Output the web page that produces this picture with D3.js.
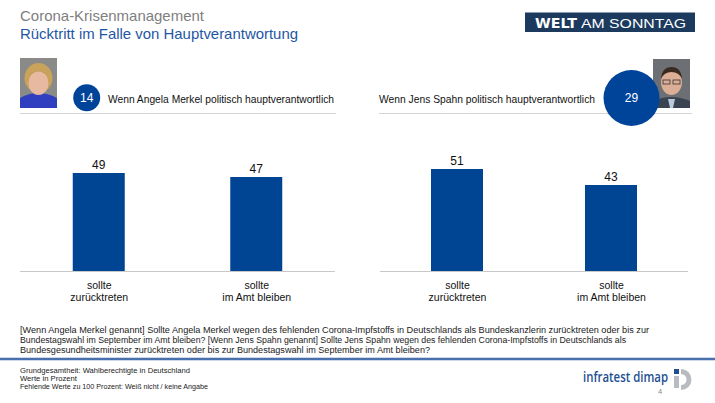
<!DOCTYPE html>
<html><head><meta charset="utf-8">
<script src="https://cdn.jsdelivr.net/npm/d3@7"></script>
<style>
html,body{margin:0;padding:0;background:#fff;}
svg{display:block;font-family:"Liberation Sans",Arial,sans-serif;}
</style></head>
<body>
<svg id="c" width="715" height="403"></svg>
<script>
// ---- data ----
const categories = ["sollte|zurücktreten", "sollte|im Amt bleiben"];
const merkelValues = [49, 47];
const spahnValues = [51, 43];
const panelTitles = ["Wenn Angela Merkel politisch hauptverantwortlich", "Wenn Jens Spahn politisch hauptverantwortlich"];
const badgeValues = [14, 29];
const titleLines = ["Corona-Krisenmanagement", "Rücktritt im Falle von Hauptverantwortung"];
const questionLines = [
  "[Wenn Angela Merkel genannt]  Sollte Angela Merkel wegen des fehlenden  Corona-Impfstoffs  in Deutschlands  als Bundeskanzlerin  zurücktreten  oder bis zur",
  "Bundestagswahl  im September im Amt bleiben? [Wenn Jens Spahn genannt]  Sollte Jens Spahn wegen des fehlenden Corona-Impfstoffs  in Deutschlands  als",
  "Bundesgesundheitsminister  zurücktreten  oder bis zur Bundestagswahl  im September im Amt bleiben?"
];
const noteLines = [
  "Grundgesamtheit:  Wahlberechtigte in Deutschland",
  "Werte in Prozent",
  "Fehlende  Werte zu 100 Prozent: Weiß nicht / keine Angabe"
];

const svg = d3.select("#c");
const barColor = "#004494";

// ---- header ----
svg.append("text").attr("x",20).attr("y",21).attr("font-size",15).attr("fill","#808080")
  .attr("textLength",184).attr("lengthAdjust","spacingAndGlyphs").text(titleLines[0]);
svg.append("text").attr("x",20).attr("y",39).attr("font-size",15).attr("fill","#1f57a4")
  .attr("textLength",278).attr("lengthAdjust","spacingAndGlyphs").text(titleLines[1]);

// WELT AM SONNTAG logo
svg.append("rect").attr("x",525).attr("y",12.5).attr("width",170).attr("height",19.5).attr("fill","#1b3a5e");
svg.append("text").attr("x",535).attr("y",27.5).attr("font-size",14.5).attr("font-weight","bold").attr("fill","#fff")
  .attr("font-family","'DejaVu Sans', sans-serif")
  .attr("textLength",42).attr("lengthAdjust","spacingAndGlyphs").text("WELT");
svg.append("text").attr("x",581).attr("y",27.5).attr("font-size",13.5).attr("fill","#fff")
  .attr("textLength",105).attr("lengthAdjust","spacingAndGlyphs").text("AM SONNTAG");

// ---- photos (stylised placeholders) ----
function merkelPhoto(g){
  g.append("rect").attr("x",0).attr("y",0).attr("width",37).attr("height",50).attr("fill","#8a8a88");
  g.append("path").attr("d","M0,50 L0,40 Q18,30 37,40 L37,50 Z").attr("fill","#2f3fc0");
  g.append("ellipse").attr("cx",18.5).attr("cy",20).attr("rx",14).attr("ry",15).attr("fill","#c9a25c");
  g.append("ellipse").attr("cx",18.5).attr("cy",25).attr("rx",10).attr("ry",12).attr("fill","#e6b9a0");
  g.append("path").attr("d","M8,19 Q18,8 29,19 Q24,12 18,13 Q12,12 8,19Z").attr("fill","#c09a55");
}
function spahnPhoto(g){
  g.append("rect").attr("x",0).attr("y",0).attr("width",37).attr("height",49).attr("fill","#6c6f73");
  g.append("path").attr("d","M0,49 L0,42 Q18,34 37,42 L37,49 Z").attr("fill","#3a4450");
  g.append("path").attr("d","M15,40 L22,40 L20,49 L17,49Z").attr("fill","#b9c9de");
  g.append("ellipse").attr("cx",18.5).attr("cy",23).attr("rx",10.5).attr("ry",13).attr("fill","#dcae95");
  g.append("path").attr("d","M8,20 Q9,8 18.5,8 Q28,8 29,20 Q26,13 18.5,13 Q11,13 8,20Z").attr("fill","#3a2a20");
  g.append("rect").attr("x",10).attr("y",21).attr("width",7).attr("height",4).attr("fill","none").attr("stroke","#333").attr("stroke-width",0.8);
  g.append("rect").attr("x",20).attr("y",21).attr("width",7).attr("height",4).attr("fill","none").attr("stroke","#333").attr("stroke-width",0.8);
}

// ---- panels ----
const panels = [
  {values: merkelValues, range:[20,335], title:panelTitles[0], titleX:108, titleLen:226,
   badge:badgeValues[0], bx:86.7, by:97.7, br:13.5, lineX:[20,336], photo:{x:20,y:58,fn:merkelPhoto}},
  {values: spahnValues, range:[380,688], title:panelTitles[1], titleX:379, titleLen:216,
   badge:badgeValues[1], bx:631.5, by:98, br:28, lineX:[379,692], photo:{x:653,y:59,fn:spahnPhoto}}
];

const y = d3.scaleLinear().domain([0,100]).range([271,71]);
const barW = 52;

panels.forEach(p=>{
  const x = d3.scalePoint().domain(categories).range(p.range).padding(0.5);
  const pg = svg.append("g").attr("transform",`translate(${p.photo.x},${p.photo.y})`);
  p.photo.fn(pg);
  svg.append("line").attr("x1",p.lineX[0]).attr("x2",p.lineX[1]).attr("y1",113.5).attr("y2",113.5)
    .attr("stroke","#d4d4d4").attr("stroke-width",1.2);
  svg.append("text").attr("x",p.titleX).attr("y",102.5).attr("font-size",10.5).attr("fill","#111")
    .attr("textLength",p.titleLen).attr("lengthAdjust","spacingAndGlyphs").text(p.title);
  svg.append("circle").attr("cx",p.bx).attr("cy",p.by).attr("r",p.br).attr("fill","#00449a");
  svg.append("text").attr("x",p.bx).attr("y",p.by+4.3).attr("text-anchor","middle").attr("font-size",12)
    .attr("fill","#fff").text(p.badge);
  const data = categories.map((c,i)=>({c, v:p.values[i]}));
  svg.append("g").selectAll("rect").data(data).join("rect")
    .attr("x",d=>x(d.c)-barW/2).attr("width",barW)
    .attr("y",d=>y(d.v)).attr("height",d=>y(0)-y(d.v)).attr("fill",barColor);
  svg.append("g").selectAll("text").data(data).join("text")
    .attr("x",d=>x(d.c)).attr("y",d=>y(d.v)-4).attr("text-anchor","middle").attr("font-size",12)
    .attr("fill","#111").text(d=>d.v);
  const ax = svg.append("g").attr("transform",`translate(0,${y(0)})`)
    .call(d3.axisBottom(x).tickSize(0).tickPadding(0).tickFormat(""));
  ax.select(".domain").attr("stroke","#c8c8c8").attr("stroke-width",1.2)
    .attr("d",`M${p.range[0]},0.5H${p.range[1]}`);
  ax.selectAll(".tick").each(function(d){
    const t = d3.select(this).append("text").attr("fill","#111").attr("font-size",10.5)
      .attr("text-anchor","middle").attr("font-family","Liberation Sans, Arial, sans-serif");
    d.split("|").forEach((s,i)=>t.append("tspan").attr("x",0).attr("y",18+i*11.5).text(s));
  });
});

// ---- question text ----
const qLens = [629, 606, 410];
questionLines.forEach((s,i)=>{
  svg.append("text").attr("x",20).attr("y",332.5+i*10).attr("font-size",9.6).attr("fill","#222")
    .attr("textLength",qLens[i]).attr("lengthAdjust","spacingAndGlyphs").text(s);
});

// footer rule
const grad = svg.append("defs").append("linearGradient").attr("id","rule").attr("x1",0).attr("x2",0).attr("y1",0).attr("y2",1);
grad.append("stop").attr("offset","0%").attr("stop-color","#9bb3d6");
grad.append("stop").attr("offset","50%").attr("stop-color","#1f4f9a");
grad.append("stop").attr("offset","100%").attr("stop-color","#9bb3d6");
svg.append("rect").attr("x",0).attr("y",357.5).attr("width",715).attr("height",3).attr("fill","url(#rule)");

// notes
const nLens = [170, 57, 188];
noteLines.forEach((s,i)=>{
  svg.append("text").attr("x",20).attr("y",373+i*8.2).attr("font-size",7).attr("fill","#222")
    .attr("textLength",nLens[i]).attr("lengthAdjust","spacingAndGlyphs").text(s);
});

// infratest dimap logo
svg.append("text").attr("x",583).attr("y",382).attr("font-size",14).attr("fill","#1d4f91").attr("font-weight",600)
  .attr("font-family","'Open Sans', 'Liberation Sans', sans-serif")
  .attr("textLength",85).attr("lengthAdjust","spacingAndGlyphs").text("infratest dimap");
svg.append("rect").attr("x",674).attr("y",369).attr("width",5).attr("height",5).attr("fill","#1d4f91");
svg.append("rect").attr("x",674).attr("y",376).attr("width",5).attr("height",12).attr("fill","#b8bcc0");
svg.append("path").attr("d","M681,369 A10,10 0 1 1 681,390 L681,385 A5.5,5.5 0 1 0 681,374 Z").attr("fill","#b8bcc0");
svg.append("text").attr("x",658).attr("y",394).attr("font-size",7.5).attr("fill","#888").text("4");
</script>
</body></html>
